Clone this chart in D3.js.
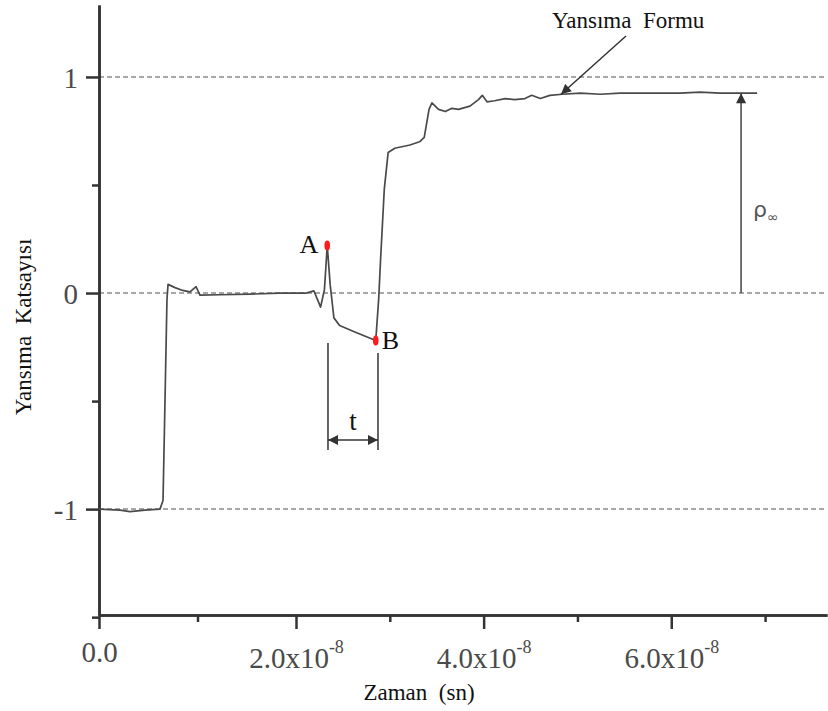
<!DOCTYPE html>
<html>
<head>
<meta charset="utf-8">
<script src="https://cdn.jsdelivr.net/npm/d3@7"></script>
<style>
body { margin:0; background:#fff; }
</style>
</head>
<body>
<div id="svgContainer"></div>
<script>
// Yansima egrisi (zaman x1e-8 sn, katsayi)
var timeVals = [0, 0.213, 0.315, 0.467, 0.619, 0.650, 0.670, 0.690, 0.701, 0.772, 0.850, 0.924, 0.985, 1.025, 1.226, 1.535, 1.835,
  2.110, 2.191, 2.262, 2.303, 2.333, 2.364, 2.404, 2.465, 2.627, 2.850,
  2.881, 2.901, 2.941, 2.982, 3.053, 3.215, 3.317, 3.367, 3.418, 3.449, 3.519, 3.591, 3.661, 3.732, 3.854, 3.945, 3.986, 4.036,
  4.117, 4.229, 4.330, 4.441, 4.513, 4.604, 4.706, 4.837, 5.030, 5.243, 5.455, 5.668, 5.881, 6.094, 6.306, 6.519, 6.733, 6.915];
var coefVals = [-1.0, -1.005, -1.012, -1.005, -1.0, -0.96, -0.5, -0.03, 0.04, 0.025, 0.012, 0.005, 0.03, -0.01, -0.008, -0.005, 0.0,
  0.0, 0.01, -0.065, 0.015, 0.22, 0.04, -0.115, -0.15, -0.18, -0.22,
  -0.03, 0.15, 0.48, 0.65, 0.67, 0.685, 0.70, 0.72, 0.85, 0.88, 0.85, 0.84, 0.855, 0.85, 0.865, 0.895, 0.915, 0.885,
  0.89, 0.90, 0.895, 0.90, 0.915, 0.90, 0.915, 0.92, 0.925, 0.92, 0.925, 0.925, 0.925, 0.925, 0.93, 0.925, 0.925, 0.925];

var yMajor = [-1, 0, 1];
var yMinor = [-1.5, -0.5, 0.5];
var xMajor = [0, 2, 4, 6];
var xMinor = [1, 3, 5, 7];
var xLabels = ["0.0", "2.0x10", "4.0x10", "6.0x10"];
var xExp = ["", "-8", "-8", "-8"];
var gridVals = [1, 0, -1];

var pointA = {t: 2.333, v: 0.22, name: "A"};
var pointB = {t: 2.850, v: -0.22, name: "B"};
var tBracket = [2.341, 2.874];
var rhoT = 6.744, rhoV = 0.925;
var formuT = 4.825, formuV = 0.92;

var serif = "'Liberation Serif', 'Times New Roman', serif";

var svgWidth = 828, svgHeight = 711;
var svg = d3.select("#svgContainer").append("svg")
    .attr("width", svgWidth).attr("height", svgHeight);

// the scanned axis is a bit uneven: first 2 units are wider
var x = d3.scaleLinear().domain([0, 2, 7.66]).range([99, 296, 827]);
var y = d3.scaleLinear().domain([-1.49, 1.333]).range([615, 5]);

var defs = svg.append("defs");
defs.append("marker").attr("id", "arr")
    .attr("viewBox", "0 0 10 10").attr("refX", 10).attr("refY", 5)
    .attr("markerWidth", 12).attr("markerHeight", 10).attr("markerUnits", "userSpaceOnUse")
    .attr("orient", "auto-start-reverse")
    .append("path").attr("d", "M0,0 L10,5 L0,10 z").attr("fill", "#333");

// grid
svg.selectAll(".grid").data(gridVals).enter().append("line")
    .attr("x1", x(0)).attr("x2", 827)
    .attr("y1", d => y(d)).attr("y2", d => y(d))
    .attr("stroke", "#8a8a8a").attr("stroke-width", 1.5)
    .attr("stroke-dasharray", "5,3");

// axes
function styleAxis(g) {
  g.select(".domain").attr("stroke", "#333").attr("stroke-width", 2.5);
  g.selectAll(".tick line").attr("stroke", "#333").attr("stroke-width", 2.5);
}
svg.append("g").attr("transform", "translate(" + x(0) + ",0)")
    .call(d3.axisLeft(y).tickValues(yMinor).tickSize(7).tickFormat("").tickSizeOuter(0))
    .call(styleAxis);
var ya = svg.append("g").attr("transform", "translate(" + x(0) + ",0)")
    .call(d3.axisLeft(y).tickValues(yMajor).tickSize(13).tickPadding(8).tickSizeOuter(0).tickFormat(d => String(d)))
    .call(styleAxis);
ya.selectAll(".tick text").style("font-family", serif).attr("font-size", 29).attr("fill", "#4a4a4a")
    .attr("dy", "0.36em");

svg.append("g").attr("transform", "translate(0," + y(-1.49) + ")")
    .call(d3.axisBottom(x).tickValues(xMinor).tickSize(7).tickFormat("").tickSizeOuter(0))
    .call(styleAxis);
var xa = svg.append("g").attr("transform", "translate(0," + y(-1.49) + ")")
    .call(d3.axisBottom(x).tickValues(xMajor).tickSize(14).tickSizeOuter(0).tickFormat(""))
    .call(styleAxis);
xa.selectAll(".tick").each(function(d, i) {
  var t = d3.select(this).append("text")
      .attr("text-anchor", "middle").attr("fill", "#4a4a4a")
      .style("font-family", serif).attr("font-size", 29)
      .attr("y", i == 0 ? 47 : 53);
  t.append("tspan").text(xLabels[i]);
  if (xExp[i]) t.append("tspan").attr("font-size", 18).attr("dy", -15).text(xExp[i]);
});

// axis titles
svg.append("text").attr("x", 419).attr("y", 700).attr("text-anchor", "middle")
    .style("font-family", serif).style("white-space", "pre")
    .attr("font-size", 23).attr("fill", "#111").text("Zaman  (sn)");
svg.append("text").attr("transform", "translate(31,327) rotate(-90)").attr("text-anchor", "middle")
    .style("font-family", serif).style("white-space", "pre")
    .attr("font-size", 23).attr("fill", "#111").text("Yansıma  Katsayısı");

// curve
var pts = timeVals.map((t, i) => [t, coefVals[i]]);
svg.append("path").datum(pts)
    .attr("d", d3.line().x(d => x(d[0])).y(d => y(d[1])))
    .attr("fill", "none").attr("stroke", "#4a4a4a").attr("stroke-width", 1.7)
    .attr("stroke-linejoin", "round");

// points A, B
[pointA, pointB].forEach(function(p) {
  svg.append("ellipse").attr("cx", x(p.t)).attr("cy", y(p.v))
      .attr("rx", 2.8).attr("ry", 5).attr("fill", "#ff1a1a");
});
svg.append("text").attr("x", x(pointA.t) - 9).attr("y", y(pointA.v) + 8).attr("text-anchor", "end")
    .style("font-family", serif).attr("font-size", 26).attr("fill", "#111").text("A");
svg.append("text").attr("x", x(pointB.t) + 6).attr("y", y(pointB.v) + 8)
    .style("font-family", serif).attr("font-size", 26).attr("fill", "#111").text("B");

// t bracket
svg.append("line").attr("x1", x(tBracket[0])).attr("x2", x(tBracket[0]))
    .attr("y1", 343).attr("y2", 450).attr("stroke", "#333").attr("stroke-width", 1.5);
svg.append("line").attr("x1", x(tBracket[1])).attr("x2", x(tBracket[1]))
    .attr("y1", 353).attr("y2", 450).attr("stroke", "#333").attr("stroke-width", 1.5);
svg.append("line").attr("x1", x(tBracket[0])).attr("x2", x(tBracket[1]))
    .attr("y1", 440).attr("y2", 440).attr("stroke", "#333").attr("stroke-width", 1.5)
    .attr("marker-start", "url(#arr)").attr("marker-end", "url(#arr)");
svg.append("text").attr("x", (x(tBracket[0]) + x(tBracket[1])) / 2).attr("y", 430).attr("text-anchor", "middle")
    .style("font-family", serif).attr("font-size", 27).attr("fill", "#111").text("t");

// rho arrow
svg.append("line").attr("x1", x(rhoT)).attr("x2", x(rhoT))
    .attr("y1", y(0)).attr("y2", y(rhoV))
    .attr("stroke", "#444").attr("stroke-width", 1.5).attr("marker-end", "url(#arr)");
var rt = svg.append("text").attr("x", x(rhoT) + 12).attr("y", 217)
    .style("font-family", "'DejaVu Sans', sans-serif").attr("font-size", 22).attr("fill", "#555");
rt.append("tspan").text("ρ");
rt.append("tspan").attr("font-size", 14).attr("dy", 5).text("∞");

// Yansima Formu label + arrow
svg.append("text").attr("x", 552).attr("y", 28)
    .style("font-family", serif).style("white-space", "pre")
    .attr("font-size", 23).attr("fill", "#111").text("Yansıma  Formu");
svg.append("line").attr("x1", 626).attr("x2", x(formuT)).attr("y1", 36).attr("y2", y(formuV))
    .attr("stroke", "#333").attr("stroke-width", 1.5).attr("marker-end", "url(#arr)");
</script>
</body>
</html>
